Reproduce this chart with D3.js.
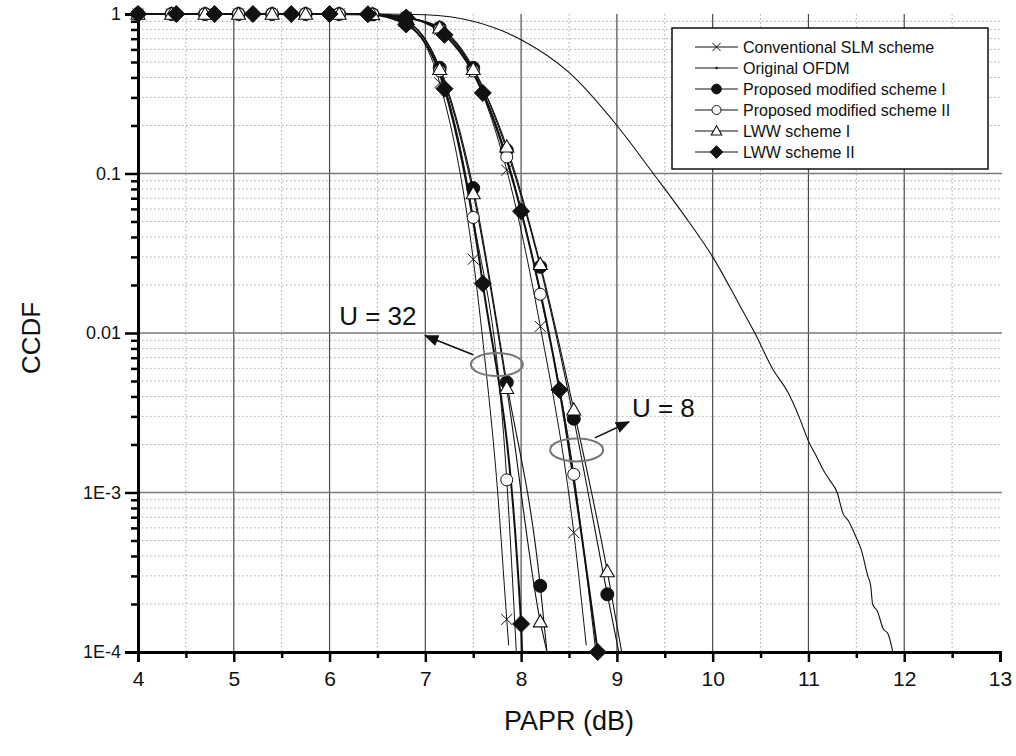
<!DOCTYPE html>
<html>
<head>
<meta charset="utf-8">
<script src="https://cdn.jsdelivr.net/npm/d3@7"></script>
<style>
  body { margin: 0; background: #fff; }
  svg { display: block; font-family: "Liberation Sans", Arial, sans-serif; }
</style>
</head>
<body>
<div id="chart"></div>
<script>
// ---- data ----
var xTicks = [4, 5, 6, 7, 8, 9, 10, 11, 12, 13];
var yTicks = [1, 0.1, 0.01, 1e-3, 1e-4];
var yTickLabels = ["1", "0.1", "0.01", "1E-3", "1E-4"];

// flat part, marker spacing 0.35 dB / 0.4 dB
var flat35 = [[4, 1], [4.35, 1], [4.7, 1], [5.05, 1], [5.4, 1], [5.75, 1], [6.1, 1], [6.45, 0.995]];
var flat40 = [[4, 1], [4.4, 1], [4.8, 1], [5.2, 1], [5.6, 1], [6.0, 1], [6.4, 0.997]];

// marker points [x, ccdf]
var slm32 = [[6.8, 0.87], [7.15, 0.37], [7.5, 0.029], [7.85, 1.6e-4]];
var slm32End = [[7.62, 0.007], [7.75, 1.1e-3], [7.87, 1.1e-4]];
var slm8 = [[6.8, 0.95], [7.15, 0.8], [7.5, 0.43], [7.85, 0.105], [8.2, 0.011], [8.55, 5.6e-4]];
var slm8End = [[8.68, 1.1e-4]];

var prop1_32 = [[6.8, 0.9], [7.15, 0.46], [7.5, 0.081], [7.85, 0.0049], [8.2, 2.6e-4]];
var prop1_32End = [[8.27, 1e-4]];
var prop1_8 = [[6.8, 0.95], [7.15, 0.82], [7.5, 0.46], [7.85, 0.14], [8.2, 0.026], [8.55, 0.0029], [8.9, 2.3e-4]];
var prop1_8End = [[9.02, 1e-4]];

var prop2_32 = [[6.8, 0.88], [7.15, 0.44], [7.5, 0.053], [7.85, 1.2e-3]];
var prop2_32End = [[7.95, 1e-4]];
var prop2_8 = [[6.8, 0.95], [7.15, 0.8], [7.5, 0.44], [7.85, 0.127], [8.2, 0.0175], [8.55, 1.3e-3]];
var prop2_8End = [[8.78, 1e-4]];

var lww1_32 = [[6.8, 0.9], [7.15, 0.45], [7.5, 0.075], [7.85, 0.0045], [8.2, 1.55e-4]];
var lww1_32End = [[8.27, 1e-4]];
var lww1_8 = [[6.8, 0.95], [7.15, 0.82], [7.5, 0.45], [7.85, 0.147], [8.2, 0.027], [8.55, 0.0033], [8.9, 3.2e-4]];
var lww1_8End = [[9.05, 1e-4]];

var lww2_32 = [[6.8, 0.86], [7.2, 0.34], [7.6, 0.0204], [8.0, 1.5e-4]];
var lww2_32End = [[8.01, 1e-4]];
var lww2_8 = [[6.8, 0.95], [7.2, 0.74], [7.6, 0.32], [8.0, 0.058], [8.4, 0.0044], [8.8, 1e-4]];
var lww2_8End = [];

var original = [[4, 1], [6, 1], [6.5, 0.999], [7, 0.99], [7.5, 0.9], [8, 0.69], [8.5, 0.43],
  [9, 0.2], [9.38, 0.1], [9.7, 0.055], [10, 0.03], [10.28, 0.015], [10.44, 0.01],
  [10.63, 0.0059], [10.79, 0.0042], [10.9, 0.003], [11, 0.0021], [11.08, 0.0017], [11.15, 0.0014],
  [11.22, 0.0012], [11.3, 0.001], [11.36, 7.4e-4], [11.42, 6.6e-4], [11.5, 5.2e-4], [11.55, 4.4e-4],
  [11.62, 3.0e-4], [11.65, 2.6e-4], [11.67, 2.0e-4], [11.72, 1.8e-4], [11.78, 1.4e-4],
  [11.83, 1.3e-4], [11.87, 1.07e-4], [11.88, 1e-4]];

var legendNames = ["Conventional SLM scheme", "Original OFDM", "Proposed modified scheme I",
  "Proposed modified scheme II", "LWW scheme I", "LWW scheme II"];

// ---- layout ----
var width = 1016, height = 756;
var x = d3.scaleLinear().domain([4, 13]).range([138, 1000]);
var y = d3.scaleLog().domain([1e-4, 1]).range([652, 14]);

var svg = d3.select("#chart").append("svg")
  .attr("width", width)
  .attr("height", height);

// minor grid
var minorX = d3.range(4.5, 13, 1);
var minorY = [];
[1e-4, 1e-3, 1e-2, 1e-1].forEach(function (d) {
  for (var k = 2; k <= 9; k++) minorY.push(d * k);
});

var grid = svg.append("g");
grid.selectAll(".mx").data(minorX).enter().append("line")
  .attr("x1", function (d) { return x(d); })
  .attr("x2", function (d) { return x(d); })
  .attr("y1", y(1)).attr("y2", y(1e-4))
  .attr("stroke", "#a8a8a8").attr("stroke-width", 1)
  .attr("stroke-dasharray", "1.5,2.5");
grid.selectAll(".my").data(minorY).enter().append("line")
  .attr("x1", x(4)).attr("x2", x(13) + 2)
  .attr("y1", function (d) { return y(d); })
  .attr("y2", function (d) { return y(d); })
  .attr("stroke", "#a8a8a8").attr("stroke-width", 1)
  .attr("stroke-dasharray", "1.5,2.5");
grid.selectAll(".Mx").data(xTicks.slice(1, -1)).enter().append("line")
  .attr("x1", function (d) { return x(d); })
  .attr("x2", function (d) { return x(d); })
  .attr("y1", y(1)).attr("y2", y(1e-4))
  .attr("stroke", "#4a4a4a").attr("stroke-width", 1.2);
grid.selectAll(".My").data(yTicks.slice(1, -1)).enter().append("line")
  .attr("x1", x(4)).attr("x2", x(13) + 2)
  .attr("y1", function (d) { return y(d); })
  .attr("y2", function (d) { return y(d); })
  .attr("stroke", "#7a7a7a").attr("stroke-width", 1.5);

// ---- axes ----
var fmt = function (d) { return yTickLabels[yTicks.indexOf(d)]; };
var yAxis = svg.append("g")
  .attr("transform", "translate(" + x(4) + ",0)")
  .call(d3.axisLeft(y).tickValues(yTicks).tickFormat(fmt).tickSize(13).tickPadding(4));
var yMinor = svg.append("g")
  .attr("transform", "translate(" + x(4) + ",0)")
  .call(d3.axisLeft(y).tickValues(minorY).tickFormat("").tickSize(7));
yMinor.select(".domain").remove();

var xAxis = svg.append("g")
  .attr("transform", "translate(0," + y(1e-4) + ")")
  .call(d3.axisBottom(x).tickValues(xTicks).tickFormat(d3.format("d")).tickSize(10).tickPadding(9));
var xMinor = svg.append("g")
  .attr("transform", "translate(0," + y(1e-4) + ")")
  .call(d3.axisBottom(x).tickValues(minorX).tickFormat("").tickSize(6));
xMinor.select(".domain").remove();

[yAxis, xAxis].forEach(function (a) {
  a.select(".domain").attr("stroke", "#000").attr("stroke-width", 3);
  a.selectAll(".tick line").attr("stroke", "#000").attr("stroke-width", 2.5);
  a.selectAll(".tick text").attr("fill", "#111")
    .style("font-family", "'Liberation Sans', Arial, sans-serif");
});
yAxis.selectAll(".tick text").style("font-size", "18px");
xAxis.selectAll(".tick text").style("font-size", "21px");
[yMinor, xMinor].forEach(function (a) {
  a.selectAll(".tick line").attr("stroke", "#000").attr("stroke-width", 2.5);
});

svg.append("text")
  .attr("x", x(8.5)).attr("y", 730)
  .attr("text-anchor", "middle")
  .style("font-size", "27px").attr("fill", "#111")
  .text("PAPR (dB)");
svg.append("text")
  .attr("transform", "translate(40," + 338 + ")rotate(-90)")
  .attr("text-anchor", "middle")
  .style("font-size", "26px").attr("fill", "#111")
  .text("CCDF");

// ---- curves ----
var line = d3.line()
  .x(function (d) { return x(d[0]); })
  .y(function (d) { return y(d[1]); })
  .curve(d3.curveMonotoneX);

function joined(flat, marks, tail) {
  return flat.concat(marks, tail).sort(function (a, b) { return a[0] - b[0]; });
}

var curves = svg.append("g");
curves.append("path")
  .attr("d", line(original))
  .attr("fill", "none").attr("stroke", "#111").attr("stroke-width", 1.1);

var series = [
  { key: "x", w: 1, flat: flat35, sets: [[slm32, slm32End], [slm8, slm8End]] },
  { key: "fc", w: 1.1, flat: flat35, sets: [[prop1_32, prop1_32End], [prop1_8, prop1_8End]] },
  { key: "oc", w: 1, flat: flat35, sets: [[prop2_32, prop2_32End], [prop2_8, prop2_8End]] },
  { key: "tri", w: 1.1, flat: flat35, sets: [[lww1_32, lww1_32End], [lww1_8, lww1_8End]] },
  { key: "dia", w: 2, flat: flat40, sets: [[lww2_32, lww2_32End], [lww2_8, lww2_8End]] }
];

series.forEach(function (s) {
  s.sets.forEach(function (set) {
    curves.append("path")
      .attr("d", line(joined(s.flat, set[0], set[1])))
      .attr("fill", "none").attr("stroke", "#111").attr("stroke-width", s.w);
  });
});

function drawMarker(g, key, cx, cy, scale) {
  var k = scale || 1;
  if (key === "x") {
    var r = 5.5 * k;
    g.append("path")
      .attr("d", "M" + (cx - r) + "," + (cy - r) + "L" + (cx + r) + "," + (cy + r) +
        "M" + (cx - r) + "," + (cy + r) + "L" + (cx + r) + "," + (cy - r))
      .attr("stroke", "#111").attr("stroke-width", 1).attr("fill", "none");
  } else if (key === "fc") {
    g.append("circle").attr("cx", cx).attr("cy", cy).attr("r", 6.5 * k)
      .attr("fill", "#111").attr("stroke", "#111");
  } else if (key === "oc") {
    g.append("circle").attr("cx", cx).attr("cy", cy).attr("r", 6 * k)
      .attr("fill", "#fff").attr("stroke", "#111").attr("stroke-width", 1);
  } else if (key === "tri") {
    var h = 7 * k;
    g.append("path")
      .attr("d", "M" + cx + "," + (cy - h) + "L" + (cx + h) + "," + (cy + h * 0.75) +
        "L" + (cx - h) + "," + (cy + h * 0.75) + "Z")
      .attr("fill", "#fff").attr("stroke", "#111").attr("stroke-width", 1.1);
  } else if (key === "dia") {
    var d = 8.5 * k;
    g.append("path")
      .attr("d", "M" + cx + "," + (cy - d) + "L" + (cx + d) + "," + cy +
        "L" + cx + "," + (cy + d) + "L" + (cx - d) + "," + cy + "Z")
      .attr("fill", "#111").attr("stroke", "#111");
  } else if (key === "dot") {
    g.append("circle").attr("cx", cx).attr("cy", cy).attr("r", 1.2).attr("fill", "#111");
  }
}

var marks = svg.append("g");
series.forEach(function (s) {
  var pts = s.flat.slice();
  s.sets.forEach(function (set) { pts = pts.concat(set[0]); });
  pts.forEach(function (p) { drawMarker(marks, s.key, x(p[0]), y(p[1])); });
});

// ---- annotations ----
var ann = svg.append("g");
svg.append("defs").append("marker")
  .attr("id", "arr").attr("viewBox", "0 0 10 10")
  .attr("refX", 9).attr("refY", 5)
  .attr("markerWidth", 9).attr("markerHeight", 9)
  .attr("orient", "auto")
  .append("path").attr("d", "M0,1L10,5L0,9Z").attr("fill", "#111");

ann.append("ellipse")
  .attr("cx", x(7.747)).attr("cy", y(0.00635)).attr("rx", 26).attr("ry", 11.5)
  .attr("fill", "none").attr("stroke", "#777").attr("stroke-width", 2);
ann.append("line")
  .attr("x1", x(7.5)).attr("y1", y(0.0073)).attr("x2", x(7.0)).attr("y2", y(0.0096))
  .attr("stroke", "#111").attr("stroke-width", 1.6).attr("marker-end", "url(#arr)");
ann.append("text")
  .attr("x", x(6.1)).attr("y", y(0.0112))
  .style("font-size", "26px").attr("fill", "#111").text("U = 32");

ann.append("ellipse")
  .attr("cx", x(8.58)).attr("cy", y(0.00185)).attr("rx", 26.5).attr("ry", 11.5)
  .attr("fill", "none").attr("stroke", "#777").attr("stroke-width", 2);
ann.append("line")
  .attr("x1", x(8.77)).attr("y1", y(0.0022)).attr("x2", x(9.125)).attr("y2", y(0.00277))
  .attr("stroke", "#111").attr("stroke-width", 1.6).attr("marker-end", "url(#arr)");
ann.append("text")
  .attr("x", x(9.157)).attr("y", y(0.00297))
  .style("font-size", "26px").attr("fill", "#111").text("U = 8");

// ---- legend ----
var legKeys = ["x", "dot", "fc", "oc", "tri", "dia"];
var leg = svg.append("g");
leg.append("rect")
  .attr("x", 672).attr("y", 28).attr("width", 316).attr("height", 141)
  .attr("fill", "#fff").attr("stroke", "#111").attr("stroke-width", 1.5);
legendNames.forEach(function (name, i) {
  var cy = 47 + i * 21;
  leg.append("line").attr("x1", 695).attr("x2", 738).attr("y1", cy).attr("y2", cy)
    .attr("stroke", "#111").attr("stroke-width", 1);
  drawMarker(leg, legKeys[i], 716.5, cy, 0.75);
  leg.append("text").attr("x", 743).attr("y", cy + 5.5)
    .style("font-size", "16px").attr("fill", "#111").text(name);
});
</script>
</body>
</html>
